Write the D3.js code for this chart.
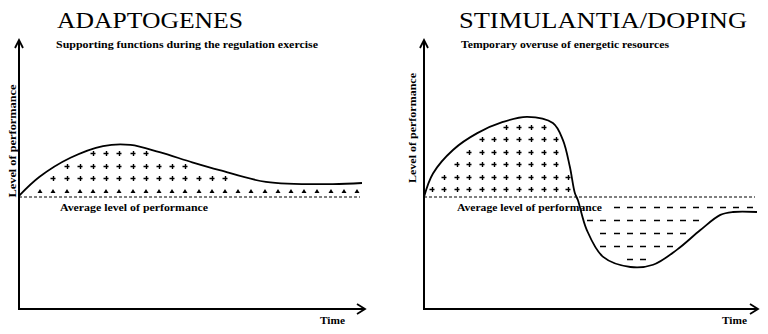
<!DOCTYPE html>
<html lang="en">
<head>
  <meta charset="UTF-8" />
  <title>Adaptogenes vs Stimulantia</title>
  <script src="https://d3js.org/d3.v7.min.js"></script>
  <style>
    body { margin: 0; background: #fff; }
    svg { display: block; }
  </style>
</head>
<body>
  <div id="chart"></div>
  <script>
    // time in % of the run, level relative to average (0 = average)
    const adaptTime  = [0, 6, 15, 24.5, 32.5, 41, 50.5, 58.5, 72, 91.5, 100];
    const adaptLevel = [1, 18, 35, 45.5, 46.5, 40, 31, 24, 13.5, 11.5, 12.5];

    const dopeTime  = [0, 2.7, 8.7, 16, 23.7, 31, 38.7, 41.7, 43.8, 45.3, 46.2, 48.9, 53.8, 62, 68.8, 76, 83, 89, 92.8, 100];
    const dopeLevel = [0, 21, 42, 57, 67, 71.5, 66, 51, 27, 3.5, -2.7, -29.5, -53.5, -62.5, -60.5, -47, -29.5, -16, -13.4, -13.4];

    const titles    = ["ADAPTOGENES", "STIMULANTIA/DOPING"];
    const subtitles = ["Supporting functions during the regulation exercise", "Temporary overuse of energetic resources"];
    const yLabel = "Level of performance";
    const avgLabel = "Average level of performance";
    const xLabel = "Time";

    const W = 768, H = 334;
    const FONT = "'Liberation Serif', 'Times New Roman', serif";
    const svg = d3.select("#chart").append("svg").attr("width", W).attr("height", H);

    // small helper so every label gets the same serif face
    function label(g, txt, x, y, size, bold, width) {
      const t = g.append("text").attr("x", x).attr("y", y)
        .style("font-family", FONT).style("font-size", size + "px")
        .style("font-weight", bold ? "bold" : "normal").attr("fill", "#000").text(txt);
      if (width) t.attr("textLength", width).attr("lengthAdjust", "spacingAndGlyphs");
      return t;
    }

    // layout of the two panels
    const panels = [
      { time: adaptTime, level: adaptLevel, ax: 19, xEnd: 362, arrowEnd: 365,
        titleX: 57, titleW: 186, subX: 56, subW: 262, labX: 16, labY: 141, labW: 113,
        avgX: 60, avgW: 148, timeX: 320, gridX0: 27, gridDX: 13.2, gridY0: 191, gridDY: 12.6, rows: 4 },
      { time: dopeTime, level: dopeLevel, ax: 424, xEnd: 757, arrowEnd: 758,
        titleX: 459, titleW: 288, subX: 461, subW: 208, labX: 416, labY: 128, labW: 110,
        avgX: 457, avgW: 145, timeX: 722, gridX0: 432, gridDX: 12.4, gridY0: 189, gridDY: 12.5, rows: 6,
        dashX0: 587, dashDX: 13.3, dashY0: 207, dashDY: 12.9, dashRows: 5 }
    ];

    const y = d3.scaleLinear().domain([-100, 100]).range([309, 85]);
    const axisY = 309, axisTop = 40;

    panels.forEach((p, i) => {
      const x = d3.scaleLinear().domain([0, 100]).range([p.ax, p.xEnd]);
      const g = svg.append("g");

      // titles
      label(g, titles[i], p.titleX, 28, 24, false, p.titleW);
      label(g, subtitles[i], p.subX, 48, 10, true, p.subW);

      // axes
      g.append("line").attr("x1", p.ax).attr("x2", p.ax).attr("y1", axisTop).attr("y2", axisY + 1)
        .attr("stroke", "#000").attr("stroke-width", 2);
      g.append("line").attr("x1", p.ax - 1).attr("x2", p.arrowEnd).attr("y1", axisY).attr("y2", axisY)
        .attr("stroke", "#000").attr("stroke-width", 2);
      g.append("path").attr("d", `M${p.ax - 4},${axisTop + 8}L${p.ax},${axisTop}L${p.ax + 4},${axisTop + 8}`)
        .attr("fill", "none").attr("stroke", "#000").attr("stroke-width", 1.8);
      g.append("path").attr("d", `M${p.arrowEnd - 8},${axisY - 5}L${p.arrowEnd},${axisY}L${p.arrowEnd - 8},${axisY + 5}`)
        .attr("fill", "none").attr("stroke", "#000").attr("stroke-width", 1.8);

      label(g, yLabel, 0, 0, 10, true, p.labW)
        .attr("transform", `translate(${p.labX},${p.labY}) rotate(-90)`)
        .attr("text-anchor", "middle");
      label(g, xLabel, p.timeX, 324, 10, true, 25);

      // average line
      g.append("line").attr("x1", x(0)).attr("x2", x(100) - 2).attr("y1", y(0)).attr("y2", y(0))
        .attr("stroke", "#000").attr("stroke-width", 1.2).attr("stroke-dasharray", "3,2");
      label(g, avgLabel, p.avgX, 211, 10, true, p.avgW);

      // curve
      const pts = p.time.map((t, k) => [x(t), y(p.level[k])]);
      const line = d3.line().curve(d3.curveCatmullRom.alpha(0.5));
      const path = g.append("path").attr("d", line(pts))
        .attr("fill", "none").attr("stroke", "#000").attr("stroke-width", 1.8);

      // sample curve so its height is known at any x
      const node = path.node(), len = node.getTotalLength();
      const samples = d3.range(0, 801).map(k => node.getPointAtLength(len * k / 800));
      const yAt = px => {
        let best = samples[0];
        for (const s of samples) if (Math.abs(s.x - px) < Math.abs(best.x - px)) best = s;
        return best.y;
      };
      const base = y(0);

      // plus marks above average
      const plus = [];
      for (let r = 0; r < p.rows; r++) {
        const py = Math.round(p.gridY0 - r * p.gridDY);
        for (let c = 0; c < 30; c++) {
          const px = Math.round(p.gridX0 + c * p.gridDX);
          if (px > x(100) - 4) continue;
          const lo = Math.max(yAt(px - 3), yAt(px), yAt(px + 3));
          if (lo < base - 3 && py > lo + 3) plus.push({ px, py, tri: i === 0 && r === 0 });
        }
      }
      g.selectAll(null).data(plus.filter(d => !d.tri)).join("path")
        .attr("d", d => `M${d.px - 2.5},${d.py + 0.5}H${d.px + 2.5}M${d.px + 0.5},${d.py - 2}V${d.py + 3}`)
        .attr("stroke", "#000").attr("stroke-width", 1.4);
      g.selectAll(null).data(plus.filter(d => d.tri)).join("path")
        .attr("d", d => `M${d.px - 2.5},${d.py + 2}L${d.px},${d.py - 2}L${d.px + 2.5},${d.py + 2}Z`)
        .attr("fill", "#000");

      // dashes below average
      if (p.dashRows) {
        const dashes = [];
        for (let r = 0; r < p.dashRows; r++) {
          const py = Math.round(p.dashY0 + r * p.dashDY);
          for (let c = 0; c < 14; c++) {
            const px = Math.round(p.dashX0 + c * p.dashDX);
            if (px + 5 > x(100) - 3) continue;
            if (r === 0 && px < p.avgX + p.avgW + 6) continue;
            const hi = Math.min(yAt(px), yAt(px + 5));
            if (py < hi - 4 && hi > base) dashes.push({ px, py });
          }
        }
        g.selectAll(null).data(dashes).join("line")
          .attr("x1", d => d.px).attr("x2", d => d.px + 6)
          .attr("y1", d => d.py + 0.5).attr("y2", d => d.py + 0.5)
          .attr("stroke", "#000").attr("stroke-width", 1.5);
      }
    });
  </script>
</body>
</html>
